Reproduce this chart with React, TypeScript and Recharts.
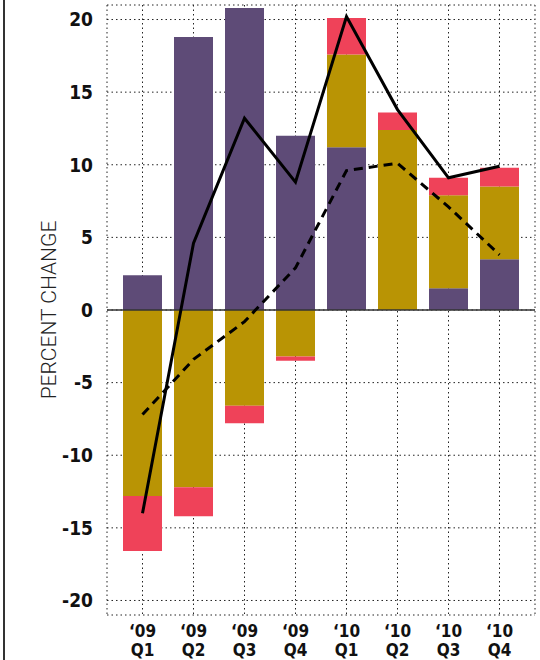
import { ComposedChart, Bar, Line, XAxis, YAxis, CartesianGrid, ReferenceLine, Label } from "recharts";

const QUARTERS = ["‘09 Q1", "‘09 Q2", "‘09 Q3", "‘09 Q4", "‘10 Q1", "‘10 Q2", "‘10 Q3", "‘10 Q4"];
// stacked components (percent change)
const PURPLE = [2.4, 18.8, 20.8, 12.0, 11.2, 0, 1.5, 3.5];
const GOLD = [-12.8, -12.2, -6.6, -3.2, 6.4, 12.4, 6.4, 5.0];
const RED = [-3.8, -2.0, -1.2, -0.3, 2.5, 1.2, 1.2, 1.3];
// lines
const TOTAL = [-14.0, 4.6, 13.2, 8.8, 20.2, 13.8, 9.1, 9.9];
const TREND = [-7.2, -3.4, -0.8, 2.9, 9.6, 10.1, 7.1, 3.8];
const Y_TICKS = [-20, -15, -10, -5, 0, 5, 10, 15, 20];

const TICK_FONT = "'Liberation Sans Narrow', 'DejaVu Sans Condensed', Roboto, sans-serif";

const chartData = QUARTERS.map((q, i) => ({
  q,
  purple: PURPLE[i],
  gold: GOLD[i],
  red: RED[i],
  total: TOTAL[i],
  trend: TREND[i],
}));

// eslint-disable-next-line @typescript-eslint/no-explicit-any
function QuarterTick({ x, y, payload }: any) {
  const [yr, qt] = String(payload.value).split(" ");
  return (
    <text x={x} y={y} textAnchor="middle" fontFamily={TICK_FONT} fontWeight={700} fontSize={17} fill="#111">
      <tspan x={x} dy={14}>{yr}</tspan>
      <tspan x={x} dy={19}>{qt}</tspan>
    </text>
  );
}

// eslint-disable-next-line @typescript-eslint/no-explicit-any
function AxisTitle({ viewBox }: any) {
  const cx = 49;
  const cy = viewBox.y + viewBox.height / 2;
  return (
    <text
      x={cx}
      y={cy}
      transform={`rotate(-90, ${cx}, ${cy})`}
      textAnchor="middle"
      dominantBaseline="central"
      fontFamily="Roboto, sans-serif"
      fontWeight={300}
      fontSize={21}
      fill="#222"
    >
      PERCENT CHANGE
    </text>
  );
}

export default function App() {
  return (
    <div style={{ position: "absolute", left: 0, top: 0, width: 540, height: 660, background: "#fff" }}>
      <div style={{ position: "absolute", left: 3, top: 0, width: 2, height: 660, background: "#333" }} />
      <ComposedChart
        width={540}
        height={660}
        data={chartData}
        stackOffset="sign"
        margin={{ top: 5, right: 5, bottom: 0, left: 0 }}
      >
        <CartesianGrid stroke="#222" strokeDasharray="1.5 3" />
        <XAxis
          dataKey="q"
          height={45}
          padding={{ left: 10, right: 10 }}
          axisLine={false}
          tickLine={false}
          interval={0}
          tick={<QuarterTick />}
        />
        <YAxis
          width={107}
          domain={[-21, 21]}
          ticks={Y_TICKS}
          axisLine={false}
          tickLine={false}
          tick={{ fontFamily: TICK_FONT, fontWeight: 700, fontSize: 19, fill: "#111", dx: -6 }}
        >
          <Label content={<AxisTitle />} />
        </YAxis>
        <Bar dataKey="purple" stackId="a" fill="#5e4b77" barSize={39} isAnimationActive={false} />
        <Bar dataKey="gold" stackId="a" fill="#b99404" barSize={39} isAnimationActive={false} />
        <Bar dataKey="red" stackId="a" fill="#ef4259" barSize={39} isAnimationActive={false} />
        <ReferenceLine y={0} stroke="#333" strokeWidth={1.5} />
        <Line
          dataKey="trend"
          stroke="#000"
          strokeWidth={3}
          strokeDasharray="9 6"
          dot={false}
          isAnimationActive={false}
        />
        <Line dataKey="total" stroke="#000" strokeWidth={3} dot={false} isAnimationActive={false} />
      </ComposedChart>
    </div>
  );
}
